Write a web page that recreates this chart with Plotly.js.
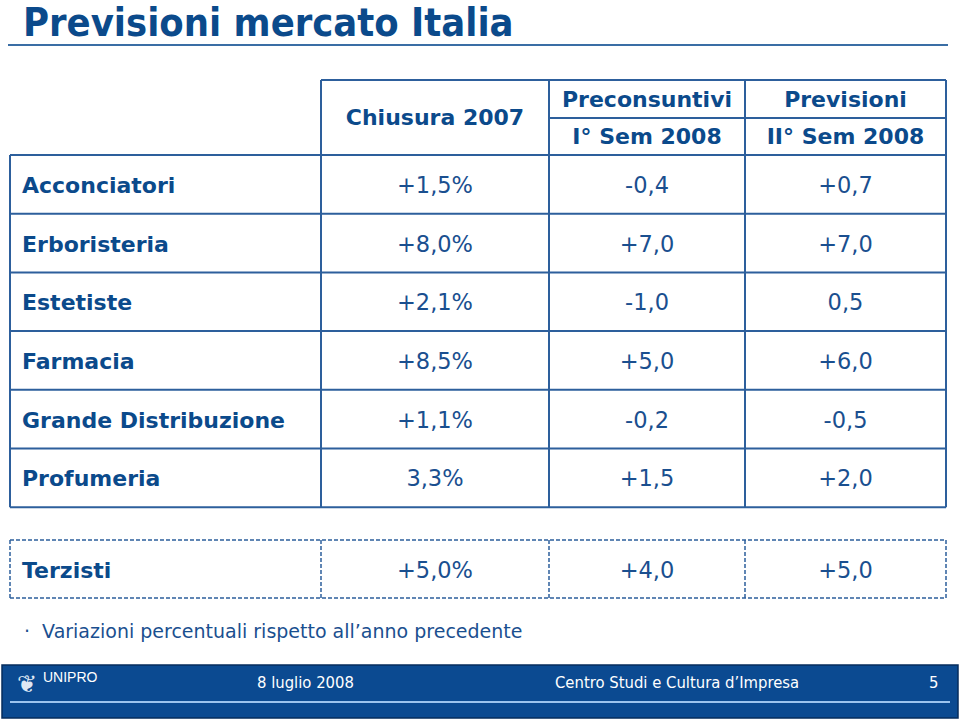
<!DOCTYPE html>
<html>
<head>
<meta charset="utf-8">
<script src="https://cdn.plot.ly/plotly-3.0.1.min.js"></script>
<style>html,body{margin:0;padding:0;background:#fff;}#chart{width:960px;height:720px;}</style>
</head>
<body>
<div id="chart"></div>
<script>
// ---- data ----
const title = "Previsioni mercato Italia";
const colHeaders = ["Chiusura 2007", "Preconsuntivi", "Previsioni"];
const colSubHeaders = ["", "I° Sem 2008", "II° Sem 2008"];
const sectors = ["Acconciatori", "Erboristeria", "Estetiste", "Farmacia", "Grande Distribuzione", "Profumeria"];
const chiusura2007 = ["+1,5%", "+8,0%", "+2,1%", "+8,5%", "+1,1%", "3,3%"];
const sem1_2008 = ["-0,4", "+7,0", "-1,0", "+5,0", "-0,2", "+1,5"];
const sem2_2008 = ["+0,7", "+7,0", "0,5", "+6,0", "-0,5", "+2,0"];
const extraSector = ["Terzisti"];
const extraChiusura2007 = ["+5,0%"];
const extraSem1 = ["+4,0"];
const extraSem2 = ["+5,0"];
const note = "Variazioni percentuali rispetto all’anno precedente";
const footerDate = "8 luglio 2008";
const footerOrg = "Centro Studi e Cultura d’Impresa";
const footerPage = "5";
const footerLogo = "UNIPRO";

// ---- layout geometry ----
const BLUE = "#0b4a8b";
const LINE = "#2d5f9c";
const colX = [10, 321, 549, 745, 946];
const hdrTop = 80, hdrMid = 118, bodyTop = 155, rowH = 58.7;
const exTop = 540, exBot = 598;
const colCenter = i => (colX[i] + colX[i + 1]) / 2;
const rowCenter = i => bodyTop + (i + 0.5) * rowH + 3;

const shapes = [];
const line = (x0, y0, x1, y1, opts) => shapes.push(Object.assign({
  type: "line", xref: "x", yref: "y", x0, y0, x1, y1,
  line: {color: LINE, width: 2}
}, opts || {}));

// title underline
line(8, 45, 948, 45, {line: {color: "#3a6ea5", width: 2}});
// header
line(colX[1], hdrTop, colX[4], hdrTop);
line(colX[2], hdrMid, colX[4], hdrMid);
for (let c = 1; c < colX.length; c++) line(colX[c], hdrTop, colX[c], bodyTop);
// body
const nRows = sectors.length;
const bodyBot = bodyTop + nRows * rowH;
for (let r = 0; r <= nRows; r++) line(colX[0], bodyTop + r * rowH, colX[4], bodyTop + r * rowH);
for (let c = 0; c < colX.length; c++) line(colX[c], bodyTop, colX[c], bodyBot);
// extra dashed row
const dash = {line: {color: LINE, width: 1.5, dash: "4px,2px"}};
line(colX[0], exTop, colX[4], exTop, dash);
line(colX[0], exBot, colX[4], exBot, dash);
for (let c = 0; c < colX.length; c++) line(colX[c], exTop, colX[c], exBot, dash);
// footer
shapes.push({type: "rect", xref: "x", yref: "y", x0: 2, y0: 665, x1: 958, y1: 718,
  fillcolor: "#0b4a91", line: {color: "#062c5c", width: 1.5}, layer: "below"});
line(10, 702, 950, 702, {line: {color: "#9cc4ee", width: 2}});

const bodyFont = {family: "DejaVu Sans, Verdana, sans-serif", size: 22.5, color: "#1a4f8f"};
const labelFont = {family: "DejaVu Sans, Verdana, sans-serif", size: 22, color: BLUE, weight: "bold"};

const rowsY = sectors.map((_, i) => rowCenter(i));
const traces = [];
const textTrace = (x, y, text, font, pos) => traces.push({
  type: "scatter", mode: "text", x, y, text, textfont: font,
  textposition: pos || "middle center", hoverinfo: "skip", showlegend: false, cliponaxis: false
});
// body rows
textTrace(sectors.map(() => 22), rowsY, sectors, labelFont, "middle right");
textTrace(sectors.map(() => colCenter(1)), rowsY, chiusura2007, bodyFont);
textTrace(sectors.map(() => colCenter(2)), rowsY, sem1_2008, bodyFont);
textTrace(sectors.map(() => colCenter(3)), rowsY, sem2_2008, bodyFont);
// extra row
const exY = extraSector.map(() => (exTop + exBot) / 2 + 3);
textTrace([22], exY, extraSector, labelFont, "middle right");
textTrace([colCenter(1)], exY, extraChiusura2007, bodyFont);
textTrace([colCenter(2)], exY, extraSem1, bodyFont);
textTrace([colCenter(3)], exY, extraSem2, bodyFont);
// headers
const hdrFont = {family: "DejaVu Sans, Verdana, sans-serif", size: 22, color: BLUE, weight: "bold"};
textTrace([colCenter(1), colCenter(2), colCenter(3)],
  [(hdrTop + bodyTop) / 2 + 2, (hdrTop + hdrMid) / 2 + 2, (hdrTop + hdrMid) / 2 + 2], colHeaders, hdrFont);
textTrace([colCenter(2), colCenter(3)], [(hdrMid + bodyTop) / 2 + 2, (hdrMid + bodyTop) / 2 + 2],
  colSubHeaders.slice(1), hdrFont);

const annotations = [
  {x: 22, y: 22, xref: "x", yref: "y", text: title, showarrow: false, xanchor: "left", yanchor: "middle", borderpad: 0,
   font: {family: "DejaVu Sans Condensed, DejaVu Sans, sans-serif", size: 39.5, color: BLUE, weight: "bold"}},
  {x: 22, y: 631, xref: "x", yref: "y", text: "·  " + note, showarrow: false, xanchor: "left", yanchor: "middle",
   font: {family: "DejaVu Sans, Verdana, sans-serif", size: 19, color: "#1a4f8f"}},
  {x: 305, y: 682, xref: "x", yref: "y", text: footerDate, showarrow: false, xanchor: "center", yanchor: "middle",
   font: {family: "DejaVu Sans Condensed, sans-serif", size: 16.5, color: "#ffffff"}},
  {x: 677, y: 682, xref: "x", yref: "y", text: footerOrg, showarrow: false, xanchor: "center", yanchor: "middle",
   font: {family: "DejaVu Sans Condensed, sans-serif", size: 16.5, color: "#ffffff"}},
  {x: 933, y: 682, xref: "x", yref: "y", text: footerPage, showarrow: false, xanchor: "center", yanchor: "middle",
   font: {family: "DejaVu Sans Condensed, sans-serif", size: 16.5, color: "#ffffff"}},
  {x: 41, y: 677, xref: "x", yref: "y", text: footerLogo, showarrow: false, xanchor: "left", yanchor: "middle",
   font: {family: "Liberation Sans, Arial, sans-serif", size: 14, color: "#ffffff"}},
  {x: 27, y: 684, xref: "x", yref: "y", text: "❦", showarrow: false, xanchor: "center", yanchor: "middle",
   font: {family: "DejaVu Sans, sans-serif", size: 24, color: "#dfe8f5"}}
];

const layout = {
  width: 960, height: 720,
  margin: {l: 0, r: 0, t: 0, b: 0, pad: 0},
  paper_bgcolor: "#ffffff", plot_bgcolor: "#ffffff",
  xaxis: {range: [0, 960], visible: false, fixedrange: true},
  yaxis: {range: [720, 0], visible: false, fixedrange: true},
  shapes, annotations, showlegend: false
};
Plotly.newPlot("chart", traces, layout, {staticPlot: true, displayModeBar: false});
</script>
</body>
</html>
